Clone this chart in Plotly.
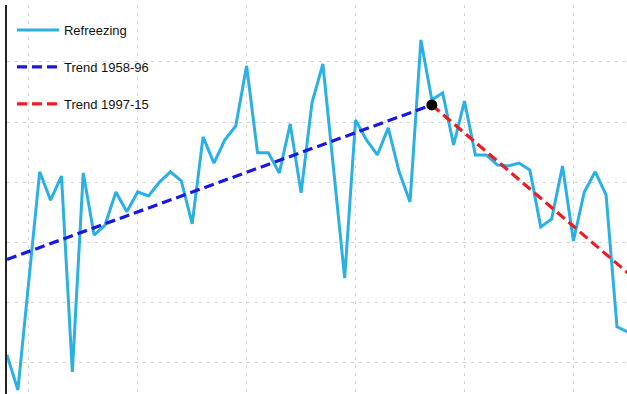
import plotly.graph_objects as go

years = list(range(1958, 2016))
refreezing = [122.7, 111.0, 147.2, 183.5, 174.1, 182.1, 117.0, 183.1, 162.5, 165.8,
              176.8, 170.2, 176.8, 175.5, 180.1, 183.5, 180.5, 166.2, 195.1, 186.4,
              194.1, 198.7, 218.7, 189.8, 189.8, 183.1, 199.4, 176.5, 206.4, 219.3,
              183.8, 148.2, 200.7, 194.1, 189.1, 198.1, 183.5, 173.5, 227.3, 207.4,
              209.7, 192.4, 207.0, 189.1, 189.1, 185.8, 185.4, 186.4, 184.1, 165.2,
              167.8, 185.4, 160.5, 176.8, 183.5, 175.8, 132.0, 130.3]

trend1_years = [1958, 1997]
trend1_vals = [154.4, 205.7]
trend2_years = [1997, 2015]
trend2_vals = [205.7, 149.9]
break_year = [1997]
break_val = [205.7]

grid_years = [1960, 1970, 1980, 1990, 2000, 2010]
grid_vals = [120, 140, 160, 180, 200, 220]

fig = go.Figure()
fig.add_trace(go.Scatter(x=years, y=refreezing, mode="lines", name="Refreezing",
                         line=dict(color="#2ab0e4", width=3), legendgroup="a"))
fig.add_trace(go.Scatter(x=trend1_years, y=trend1_vals, mode="lines", name="Trend 1958-96",
                         line=dict(color="#1818e0", width=3.2, dash="10px,5px"), legendgroup="b"))
fig.add_trace(go.Scatter(x=trend2_years, y=trend2_vals, mode="lines", name="Trend 1997-15",
                         line=dict(color="#ec1c24", width=3.2, dash="10px,5px"), legendgroup="c"))
fig.add_trace(go.Scatter(x=break_year, y=break_val, mode="markers", showlegend=False,
                         marker=dict(color="black", size=11), cliponaxis=False))

fig.update_layout(
    width=627, height=394,
    margin=dict(l=7, r=0, t=5, b=0),
    paper_bgcolor="white", plot_bgcolor="white",
    font=dict(family="Liberation Sans Narrow, Arial Narrow, Liberation Sans, Arial", size=13, color="#111"),
    legend=dict(x=0.008, y=0.974, xanchor="left", yanchor="top", bgcolor="rgba(0,0,0,0)",
                tracegroupgap=17, itemwidth=42, font=dict(size=13)),
    showlegend=True,
)
fig.update_xaxes(range=[1958, 2014.92], tickvals=grid_years, showticklabels=False, ticks="",
                 showgrid=True, gridcolor="#d4d4d4", gridwidth=1, griddash="3px,5px",
                 zeroline=False, showline=False)
fig.update_yaxes(range=[109.7, 238.9], tickvals=grid_vals, showticklabels=False, ticks="",
                 showgrid=True, gridcolor="#d4d4d4", gridwidth=1, griddash="3px,5px",
                 zeroline=False, showline=True, linecolor="#222", linewidth=1.5)

fig.write_html("out.html")
